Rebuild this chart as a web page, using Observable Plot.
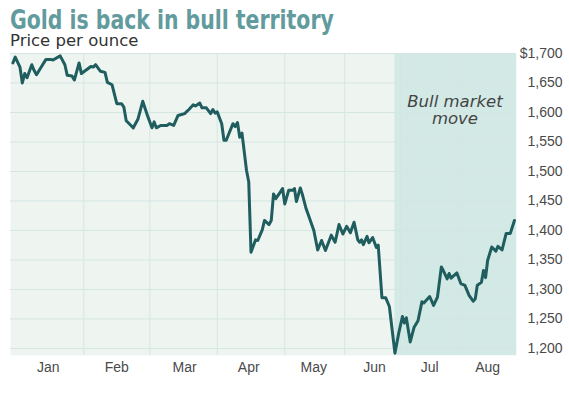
<!DOCTYPE html>
<html><head><meta charset="utf-8">
<script src="https://cdn.jsdelivr.net/npm/d3@7"></script>
<script src="https://cdn.jsdelivr.net/npm/@observablehq/plot@0.6"></script>
<style>
body{margin:0;background:#fff;width:569px;height:398px;position:relative;overflow:hidden}
#title{position:absolute;left:10px;top:8px;font:bold 26px/24px "Liberation Sans Narrow","DejaVu Sans Condensed",sans-serif;color:#619b9e;white-space:nowrap;transform-origin:0 0;transform:scaleX(0.873)}
#sub{position:absolute;left:10px;top:33px;font:16.5px/15px "DejaVu Sans",sans-serif;color:#333;white-space:nowrap}
#chart{position:absolute;left:0;top:48px}
</style></head><body>
<div id="title">Gold is back in bull territory</div>
<div id="sub">Price per ounce</div>
<div id="chart"></div>
<script>
// Day of year 2013 (0 = Jan 1)
const days = [1,2,4,5,6,7,9,10,11,13,15,17,18,21,23,24,26,27,29,30,
32,34,35,36,38,40,41,43,45,47,48,49,51,52,54,56,58,60,61,62,
64,67,68,70,72,74,75,77,79,80,82,83,85,87,88,89,90,92,93,94,
97,98,99,100,101,103,104,105,107,108,109,110,111,113,114,115,116,118,119,120,
122,124,125,126,128,129,131,132,135,137,139,141,144,146,148,150,152,154,156,158,
159,160,161,163,164,166,168,169,171,173,175,178,180,182,183,184,186,188,190,192,
193,196,198,200,202,203,205,206,207,210,212,214,216,218,219,220,222,223,224,225,
227,229,230,232,234,236,238];
const prices = [1684,1694,1677,1650,1666,1659,1681,1671,1664,1677,
1690,1690,1689,1696,1681,1663,1662,1655,1684,1666,
1672,1678,1677,1681,1670,1668,1651,1647,1615,1615,
1609,1586,1578,1574,1589,1619,1595,1574,1584,1574,
1578,1578,1581,1578,1595,1597,1598,1605,1613,1611,
1616,1608,1608,1598,1605,1599,1601,1581,1553,1553,
1581,1576,1583,1558,1565,1502,1482,1363,1384,1383,
1392,1401,1417,1410,1417,1462,1454,1465,1471,1445,
1468,1468,1471,1449,1472,1462,1437,1428,1400,1367,
1383,1366,1392,1380,1410,1394,1407,1396,1414,1384,
1380,1384,1376,1390,1379,1388,1371,1375,1286,1286,
1271,1192,1225,1254,1243,1252,1211,1236,1247,1279,
1277,1288,1273,1287,1338,1332,1318,1327,1319,1328,
1310,1307,1290,1280,1284,1307,1312,1332,1320,1349,
1372,1365,1373,1367,1395,1395,1417];
const monthStarts = ["2013-01-01","2013-02-01","2013-03-01","2013-04-01","2013-05-01","2013-06-01","2013-07-01","2013-08-01"];
const endDate = "2013-08-28";
const monthLabelDates = ["2013-01-17","2013-02-15","2013-03-17","2013-04-15","2013-05-16","2013-06-17","2013-07-16","2013-08-14"];
const yTicks = [1200,1250,1300,1350,1400,1450,1500,1550,1600,1650,1700];
const yDomain = [1188, 1700];
const bullPeriod = [{start:"2013-06-28", end:"2013-08-28"}];
const annotation = [{date:"2013-07-29", price:1604, text:"Bull market\nmove"}];

const D = s => new Date(s + "T00:00:00Z");
const data = days.map((d, i) => ({date: new Date(Date.UTC(2013, 0, 1 + d)), price: prices[i]}));
const xDomain = [...monthStarts, endDate].map(D);
const xRange = [10, 83.3, 149.3, 216.7, 284.3, 344.3, 400, 460.3, 516];
const gridColor = "#d4e6e1";

const chart = Plot.plot({
  width: 569, height: 350,
  marginTop: 5, marginBottom: 43, marginLeft: 10, marginRight: 53,
  style: {fontFamily: "'Liberation Sans', Arial, sans-serif", fontSize: "14px", color: "#4a4a4a", background: "transparent", overflow: "visible"},
  x: {type: "utc", domain: xDomain, range: xRange, label: null},
  y: {domain: yDomain, label: null},
  marks: [
    Plot.frame({fill: "#eef5f1", stroke: "none"}),
    Plot.rect(bullPeriod, {x1: d => D(d.start), x2: d => D(d.end), fill: "#d3e9e5"}),
    Plot.gridY(yTicks, {stroke: gridColor, strokeOpacity: 1, strokeWidth: 1}),
    Plot.ruleX(monthStarts.slice(1).map(D), {stroke: gridColor, strokeOpacity: 1}),
    Plot.line(data, {x: "date", y: "price", stroke: "#1f5d5f", strokeWidth: 3, strokeLinejoin: "round", strokeLinecap: "round"}),
    Plot.axisY(yTicks, {anchor: "right", label: null, tickSize: 0, tickPadding: 46, textAnchor: "end", fontSize: 14,
      tickFormat: d => (d === 1700 ? "$" : "") + d3.format(",")(d)}),
    Plot.axisX(monthLabelDates.map(D), {label: null, tickSize: 0, tickPadding: 7, fontSize: 14, tickFormat: d3.utcFormat("%b")}),
    Plot.text(annotation, {x: d => D(d.date), y: "price", text: "text", fontSize: 16.5, fontStyle: "italic",
      fontFamily: "'DejaVu Sans', sans-serif", fill: "#444", lineHeight: 1.05})
  ]
});
document.getElementById("chart").appendChild(chart);
</script>
</body></html>
